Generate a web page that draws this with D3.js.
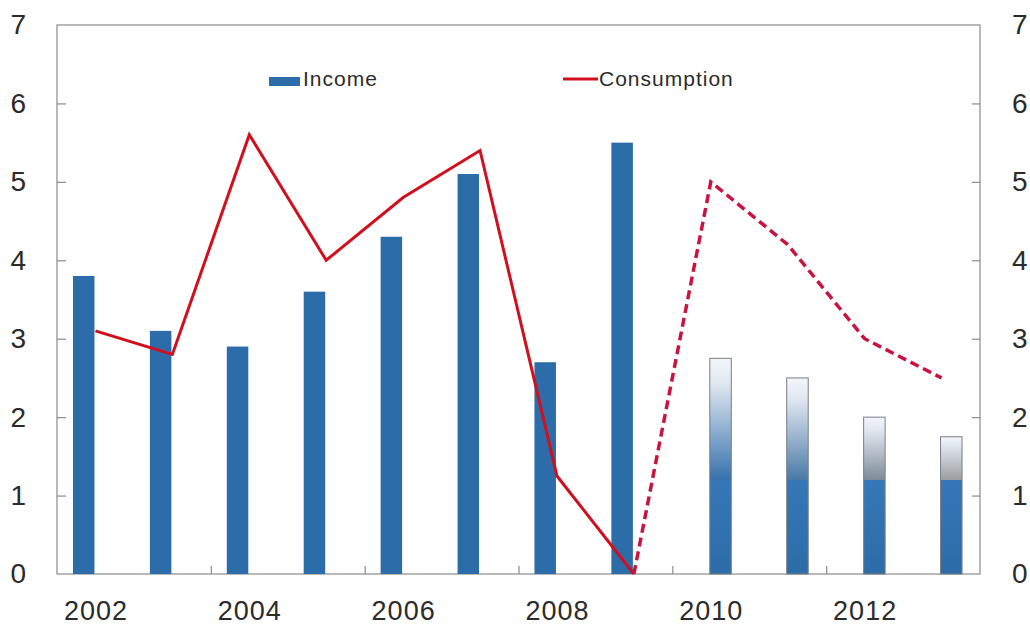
<!DOCTYPE html>
<html>
<head>
<meta charset="utf-8">
<script src="https://cdn.jsdelivr.net/npm/d3@7"></script>
<style>
  html, body { margin: 0; padding: 0; background: #fff; }
  svg { display: block; font-family: "Liberation Sans", Arial, sans-serif; }
</style>
</head>
<body>
<svg id="chart" width="1030" height="626"></svg>
<script>
// Annual growth, per cent
const years = [2002, 2003, 2004, 2005, 2006, 2007, 2008, 2009, 2010, 2011, 2012, 2013];
const income = [3.8, 3.1, 2.9, 3.6, 4.3, 5.1, 2.7, 5.5, 2.75, 2.5, 2.0, 1.75];
const incomeKind = ["outturn", "outturn", "outturn", "outturn", "outturn", "outturn", "outturn", "outturn",
                    "projection", "projection", "projection", "projection"];
const consumption = [3.1, 2.8, 5.6, 4.0, 4.8, 5.4, 1.25, 0.0, 5.0, 4.2, 3.0, 2.5];
const lastOutturnYear = 2009;
const yTicks = [0, 1, 2, 3, 4, 5, 6, 7];
const xTickLabels = [2002, 2004, 2006, 2008, 2010, 2012];
const xTickMarks = [2003.5, 2005.5, 2007.5, 2009.5, 2011.5];
const legendLabels = ["Income", "Consumption"];
const shadeFloor = 1.2; // projection bars are solid below this level

const BLUE = "#2c6ca8";
const BLUE_LIGHT = "#3677b8";
const RED = "#d0101e";
const RED_DASH = "#c8143f";
const FRAME = "#8a8a8a";
const TEXT = "#2b2b2b";
const projectionShade = ["#3672ae", "#4a79a6", "#7d8b98", "#9c9ea0"];

const svg = d3.select("#chart");
const plotLeft = 57, plotRight = 980, plotTop = 25, plotBottom = 574;

const x = d3.scaleLinear().domain([2001.5, 2013.5]).range([plotLeft, plotRight]);
const y = d3.scaleLinear().domain([0, 7]).range([plotBottom, plotTop]);
const sub = d3.scaleBand().domain(["outturn", "projection"]).range([-22.5, 20.5]).paddingInner(0);

const rows = years.map((yr, i) => ({ year: yr, income: income[i], kind: incomeKind[i], cons: consumption[i] }));

// Gradients for projection bars
const defs = svg.append("defs");
rows.filter(d => d.kind === "projection").forEach((d, j) => {
  const cut = (d.income - shadeFloor) / d.income;
  const g = defs.append("linearGradient")
    .attr("id", "proj" + d.year)
    .attr("x1", 0).attr("y1", 0).attr("x2", 0).attr("y2", 1);
  g.append("stop").attr("offset", 0).attr("stop-color", "#f3f5f9");
  g.append("stop").attr("offset", cut * 0.2).attr("stop-color", "#e2e8f1");
  g.append("stop").attr("offset", cut).attr("stop-color", projectionShade[j]);
  g.append("stop").attr("offset", cut).attr("stop-color", BLUE_LIGHT);
  g.append("stop").attr("offset", 1).attr("stop-color", BLUE);
});

// Frame
svg.append("rect")
  .attr("x", plotLeft).attr("y", plotTop)
  .attr("width", plotRight - plotLeft).attr("height", plotBottom - plotTop)
  .attr("fill", "none").attr("stroke", FRAME).attr("stroke-width", 1.2);

// Left and right value axes with inward ticks
const yLeft = d3.axisLeft(y).tickValues(yTicks).tickSize(-9).tickPadding(30).tickFormat(d3.format("d"));
const yRight = d3.axisRight(y).tickValues(yTicks).tickSize(-8).tickPadding(32).tickFormat(d3.format("d"));

function styleAxis(g) {
  g.select(".domain").remove();
  g.selectAll(".tick line").attr("stroke", FRAME).attr("stroke-width", 1.2);
  g.selectAll(".tick text")
    .attr("fill", TEXT)
    .style("font-size", "28px")
    .style("letter-spacing", "1px");
  g.selectAll(".tick").filter(d => d === 0 || d === 7).select("line").remove();
}

svg.append("g").attr("transform", `translate(${plotLeft},0)`).call(yLeft).call(styleAxis);
svg.append("g").attr("transform", `translate(${plotRight},0)`).call(yRight).call(styleAxis);

// Bottom axis: labels every second year, tick marks between
const xAxisLabels = d3.axisBottom(x).tickValues(xTickLabels).tickSize(0).tickFormat(d3.format("d"));
svg.append("g").attr("transform", `translate(0,${plotBottom})`).call(xAxisLabels)
  .call(g => {
    g.select(".domain").remove();
    g.selectAll(".tick text")
      .attr("y", 46).attr("dy", null)
      .attr("fill", TEXT).style("font-size", "27px").style("letter-spacing", "1px");
  });
const xAxisMarks = d3.axisBottom(x).tickValues(xTickMarks).tickSize(-8).tickFormat("");
svg.append("g").attr("transform", `translate(0,${plotBottom})`).call(xAxisMarks)
  .call(g => {
    g.select(".domain").remove();
    g.selectAll(".tick line").attr("stroke", FRAME).attr("stroke-width", 1.2);
  });

// Income bars
const bars = svg.append("g");
bars.selectAll("rect.outturn")
  .data(rows.filter(d => d.kind === "outturn"))
  .join("rect")
  .attr("class", "outturn")
  .attr("x", d => x(d.year) + sub("outturn"))
  .attr("width", sub.bandwidth())
  .attr("y", d => y(d.income))
  .attr("height", d => y(0) - y(d.income))
  .attr("fill", BLUE);

bars.selectAll("rect.projection")
  .data(rows.filter(d => d.kind === "projection"))
  .join("rect")
  .attr("class", "projection")
  .attr("x", d => x(d.year) + sub("projection"))
  .attr("width", sub.bandwidth())
  .attr("y", d => y(d.income))
  .attr("height", d => y(0) - y(d.income))
  .attr("fill", d => `url(#proj${d.year})`)
  .attr("stroke", "#7a7f84")
  .attr("stroke-width", 1);

// Consumption line: solid for outturn, dashed for projection
const line = d3.line().x(d => x(d.year)).y(d => y(d.cons));
svg.append("path")
  .datum(rows.filter(d => d.year <= lastOutturnYear))
  .attr("d", line)
  .attr("fill", "none")
  .attr("stroke", RED)
  .attr("stroke-width", 3)
  .attr("stroke-linejoin", "miter");
svg.append("path")
  .datum(rows.filter(d => d.year >= lastOutturnYear))
  .attr("d", line)
  .attr("fill", "none")
  .attr("stroke", RED_DASH)
  .attr("stroke-width", 3.5)
  .attr("stroke-dasharray", "9,5");

// Legend
const legend = svg.append("g").style("font-size", "21px").style("letter-spacing", "1px").attr("fill", TEXT);
legend.append("rect").attr("x", 269).attr("y", 77).attr("width", 31).attr("height", 9).attr("fill", BLUE);
legend.append("text").attr("x", 303).attr("y", 86).text(legendLabels[0]);
legend.append("line").attr("x1", 563).attr("x2", 598).attr("y1", 79).attr("y2", 79)
  .attr("stroke", RED).attr("stroke-width", 3);
legend.append("text").attr("x", 599).attr("y", 86).text(legendLabels[1]);
</script>
</body>
</html>
